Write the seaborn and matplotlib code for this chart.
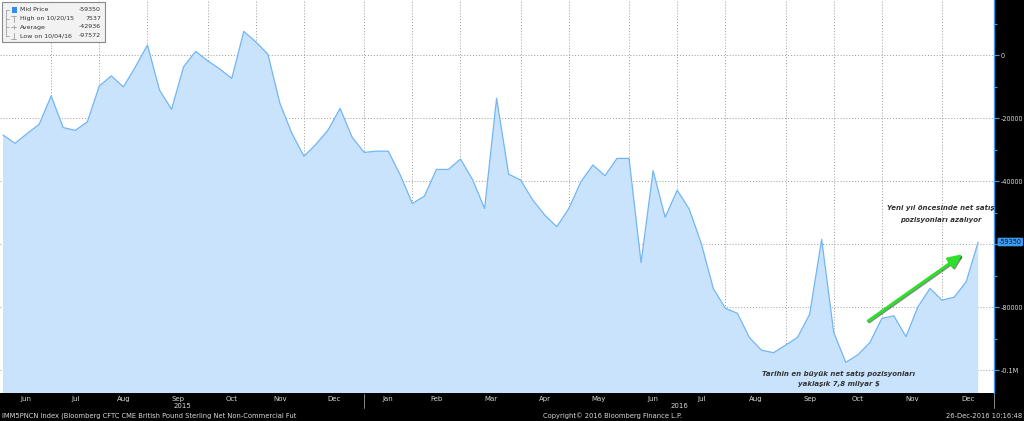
import numpy as np
import pandas as pd
import matplotlib
matplotlib.use('Agg')
import matplotlib.pyplot as plt
import matplotlib.dates as mdates
import matplotlib.transforms as mtransforms
import matplotlib.patheffects as pe
from matplotlib.patches import Rectangle
from matplotlib.lines import Line2D
import seaborn as sns

# ---------------- data ----------------
start_date = '2015-06-02'
net_position = [
    -25400, -28000, -24900, -22000, -13000, -23000, -23900, -21200, -9800, -6600,
    -10100, -3700, 3200, -11100, -17200, -3700, 1200, -1800, -4400, -7400,
    7537, 4200, 300, -15300, -24900, -32100, -28300, -23800, -16900, -26100,
    -30900, -30500, -30500, -38100, -47100, -44800, -36300, -36300, -33000, -39500,
    -48700, -13700, -37800, -39700, -46000, -50800, -54500, -48700, -40200, -34900,
    -38300, -32800, -32800, -65900, -36700, -51500, -42900, -48900, -59800, -74100,
    -80400, -82000, -89700, -93700, -94500, -92100, -89600, -82300, -58500, -88000,
    -97572, -95200, -91300, -83600, -82800, -89400, -79900, -74100, -77800, -76900,
    -72000, -59350]
y_ticks = [0, -20000, -40000, -60000, -80000, -100000]
y_tick_labels = ['0', '-20000', '-40000', '', '-80000', '-0.1M']
last_value_label = '-59350'
legend_labels = ['Mid Price', 'High on 10/20/15', 'Average', 'Low on 10/04/16']
legend_values = ['-59350', '7537', '-42936', '-97572']
year_labels = ['2015', '2016']
note_top = ['Yeni yıl öncesinde net satış', 'pozisyonları azalıyor']
note_bottom = ['Tarihin en büyük net satış pozisyonları', 'yaklaşık 7,8 milyar $']
footer_left = 'IMM5PNCN Index (Bloomberg CFTC CME British Pound Sterling Net Non-Commercial Fut'
footer_mid = 'Copyright\u00a9 2016 Bloomberg Finance L.P.'
footer_right = '26-Dec-2016 10:16:48'

dates = pd.date_range(start_date, periods=len(net_position), freq='7D')
df = pd.DataFrame({'date': dates, 'value': net_position})

# ---------------- style ----------------
LINE = '#72b6f4'
FILL = '#c9e3fc'
GRID = '#9a9a9a'
TXT = '#d8d8d8'
BLUE = '#3c9cf2'

sns.set_theme(style='white')
plt.rcParams['font.family'] = ['DejaVu Sans']

W, H = 1024, 421
fig = plt.figure(figsize=(W / 100, H / 100), dpi=100, facecolor='black')
ax = fig.add_axes([0 / W, (H - 393) / H, 994 / W, 393 / H])
ax.set_facecolor('white')

ax.fill_between(df['date'], df['value'], -200000, color=FILL, lw=0, zorder=1)
sns.lineplot(data=df, x='date', y='value', ax=ax, color=LINE, lw=0.9, zorder=3)

x_left = dates[0] - pd.Timedelta(days=1.75)
x_right = dates[-1] + pd.Timedelta(days=9.2)
ax.set_xlim(x_left, x_right)
ax.set_ylim(-107300, 17500)
ax.set_xlabel('')
ax.set_ylabel('')

# month boundaries: last data point of each month (except final month)
month_key = df['date'].dt.to_period('M')
grid_dates = list(df.groupby(month_key)['date'].max())[:-1]
month_names = [p.strftime('%b') for p in month_key.unique()]

ax.set_xticks(grid_dates)
ax.set_xticklabels([])
ax.tick_params(axis='x', length=3, color='#777777', direction='out', width=0.6)

ax.set_yticks(y_ticks)
ax.set_yticks([10000, -10000, -30000, -50000, -70000, -90000], minor=True)
ax.yaxis.tick_right()
ax.set_yticklabels(y_tick_labels)
ax.tick_params(axis='y', which='major', length=3.5, width=0.8, color=BLUE,
               labelcolor=TXT, labelsize=4.7, pad=1.5, direction='out')
ax.tick_params(axis='y', which='minor', length=2.5, width=0.8, color=BLUE, direction='out')

ax.grid(True, axis='both', color=GRID, ls=(0, (1, 2)), lw=0.7, zorder=0)
ax.set_axisbelow(True)
for s in ['top', 'left', 'bottom']:
    ax.spines[s].set_visible(False)
ax.spines['right'].set_color(BLUE)
ax.spines['right'].set_linewidth(1.0)

# last value box
ax.annotate(last_value_label, xy=(1.0, net_position[-1]),
            xycoords=mtransforms.blended_transform_factory(ax.transAxes, ax.transData),
            xytext=(3.5, 0), textcoords='offset points', ha='left', va='center',
            fontsize=4.7, color='#111111', annotation_clip=False,
            bbox=dict(boxstyle='round,pad=0.2', fc=BLUE, ec='none'))

# month labels and years in bottom band
trans_xfig = mtransforms.blended_transform_factory(ax.transData, fig.transFigure)
bounds = [mdates.date2num(x_left)] + [mdates.date2num(d) for d in grid_dates] + [mdates.date2num(x_right)]
for i, name in enumerate(month_names):
    mid = (bounds[i] + bounds[i + 1]) / 2
    fig.text(mid, (H - 399) / H, name, transform=trans_xfig, ha='center', va='center',
             fontsize=5.0, color=TXT)
year_end = mdates.date2num(grid_dates[6])
year_mids = [(bounds[0] + year_end) / 2, (year_end + bounds[-1]) / 2]
for ym, yl in zip(year_mids, year_labels):
    fig.text(ym, (H - 406.5) / H, yl, transform=trans_xfig, ha='center', va='center',
             fontsize=5.0, color=TXT)
for xb in [year_end, bounds[-1]]:
    fig.add_artist(Line2D([xb, xb], [(H - 394) / H, (H - 408) / H], transform=trans_xfig,
                          color='#888888', lw=0.7))

fig.text(2 / W, (H - 415.5) / H, footer_left, ha='left', va='center', fontsize=4.9, color=TXT)
fig.text(613 / W, (H - 415.5) / H, footer_mid, ha='center', va='center', fontsize=4.9, color=TXT)
fig.text(1022 / W, (H - 415.5) / H, footer_right, ha='right', va='center', fontsize=4.9, color=TXT)

# legend box (top-left)
def fx(px):
    return px / W
def fy(py):
    return (H - py) / H

fig.add_artist(Rectangle((fx(2), fy(42)), 103 / W, 40 / H, transform=fig.transFigure,
                         fc='#f2f2f2', ec='#8a8a8a', lw=0.8, zorder=10))
row_y = [9.5, 18.5, 27, 35.5]
for ry, lab, val in zip(row_y, legend_labels, legend_values):
    fig.text(fx(20), fy(ry), lab, ha='left', va='center', fontsize=4.5, color='#333333', zorder=11)
    fig.text(fx(101), fy(ry), val, ha='right', va='center', fontsize=4.5, color='#333333', zorder=11)
fig.add_artist(Rectangle((fx(11.5), fy(12.5)), 5.5 / W, 5.5 / H, transform=fig.transFigure,
                         fc='#2f8ff0', ec='none', zorder=11))
tree = dict(transform=fig.transFigure, color='#a0a0a0', lw=0.6, zorder=11)
fig.add_artist(Line2D([fx(6), fx(6)], [fy(9.5), fy(35.5)], **tree))
for ry in row_y:
    fig.add_artist(Line2D([fx(6), fx(9)], [fy(ry), fy(ry)], **tree))
fig.add_artist(Line2D([fx(11), fx(16)], [fy(15.5), fy(15.5)], **tree))
fig.add_artist(Line2D([fx(13.5), fx(13.5)], [fy(15.5), fy(21.5)], **tree))
fig.add_artist(Line2D([fx(11), fx(16)], [fy(27), fy(27)], **tree))
fig.add_artist(Line2D([fx(13.5), fx(13.5)], [fy(25), fy(29)], **tree))
fig.add_artist(Line2D([fx(13.5), fx(13.5)], [fy(32.5), fy(38.5)], **tree))
fig.add_artist(Line2D([fx(11), fx(16)], [fy(38.5), fy(38.5)], **tree))

# annotations
ann_style = dict(ha='center', va='center', fontsize=5.0, fontweight='bold',
                 fontstyle='italic', color='#333333', zorder=6)
ax.text(pd.Timestamp('2016-11-28'), -48600, note_top[0], **ann_style)
ax.text(pd.Timestamp('2016-11-28'), -52500, note_top[1], **ann_style)
ax.text(pd.Timestamp('2016-09-30'), -101200, note_bottom[0], **ann_style)
ax.text(pd.Timestamp('2016-09-30'), -104400, note_bottom[1], **ann_style)

arr = ax.annotate('', xy=(pd.Timestamp('2016-12-11'), -63200),
                  xytext=(pd.Timestamp('2016-10-17'), -84400),
                  arrowprops=dict(arrowstyle='-|>,head_width=0.3,head_length=0.7',
                                  color='#2fe02a', lw=2.0, shrinkA=0, shrinkB=0),
                  zorder=7)
arr.arrow_patch.set_path_effects([pe.SimpleLineShadow(offset=(0.8, -0.8), shadow_color='#1f4f1f', alpha=0.6),
                                  pe.Normal()])

fig.savefig('out.png', dpi=100, facecolor='black')
